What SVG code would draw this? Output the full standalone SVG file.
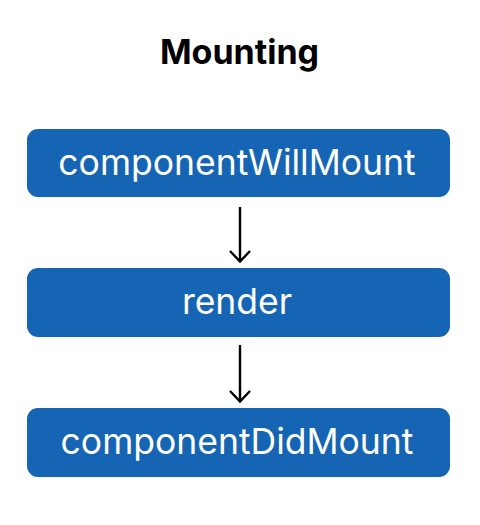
<svg xmlns="http://www.w3.org/2000/svg" width="480" height="525" viewBox="0 0 480 525">
<defs>
<style>
.box{fill:#1565b4;}
.lbl{font-family:Inter,"Noto Sans",sans-serif;font-size:35.5px;fill:#ffffff;text-anchor:middle;}
.title{font-family:Inter,"Noto Sans",sans-serif;font-size:34px;font-weight:bold;fill:#000;text-anchor:middle;}
.edge{stroke:#000;stroke-width:2.4;fill:none;}
</style>
<marker id="arr" markerWidth="24" markerHeight="24" refX="12" refY="12" orient="auto" markerUnits="userSpaceOnUse" viewBox="0 0 24 24">
<path d="M1.5,2 L12,12 L1.5,22" fill="none" stroke="#000" stroke-width="2.4"/>
</marker>
</defs>
<rect width="480" height="525" fill="#fff"/>
<text class="title" x="239.5" y="64">Mounting</text>
<g id="connectors">
<line class="edge" x1="240" y1="207" x2="240" y2="261.5" marker-end="url(#arr)"/>
<line class="edge" x1="240" y1="345" x2="240" y2="401.5" marker-end="url(#arr)"/>
</g>
<g id="n1"><rect class="box" x="27" y="129" width="423" height="68" rx="11"/><text class="lbl" x="237" y="175">componentWillMount</text></g>
<g id="n2"><rect class="box" x="27" y="268" width="423" height="69" rx="11"/><text class="lbl" x="237" y="314">render</text></g>
<g id="n3"><rect class="box" x="27" y="408" width="423" height="69" rx="11"/><text class="lbl" x="237" y="454">componentDidMount</text></g>
</svg>
